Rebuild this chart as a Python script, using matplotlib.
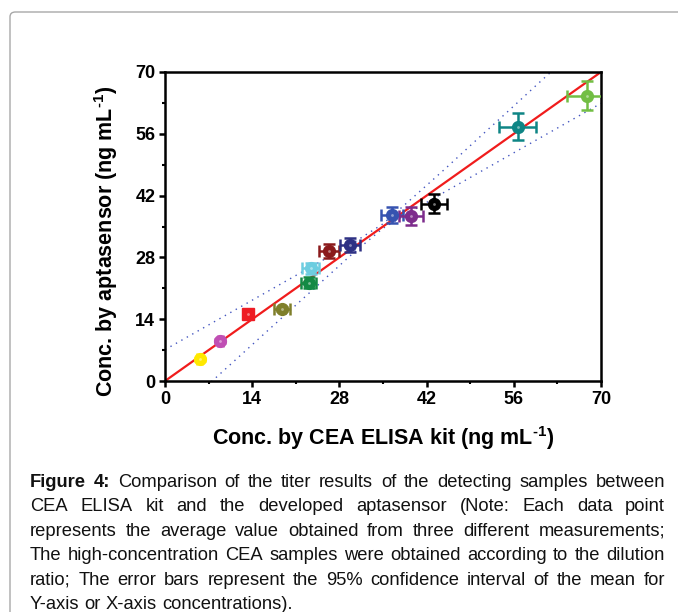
import matplotlib
matplotlib.use('Agg')
import matplotlib.pyplot as plt
import numpy as np
from matplotlib.patches import FancyBboxPatch
from matplotlib.ticker import MultipleLocator

plt.rcParams['font.family'] = ['Liberation Sans', 'DejaVu Sans']
plt.rcParams['mathtext.fontset'] = 'custom'
plt.rcParams['mathtext.rm'] = 'Liberation Sans:bold'
plt.rcParams['mathtext.default'] = 'rm'

# samples: ELISA kit (x) vs aptasensor (y), with 95% CI
elisa = [5.6, 8.9, 13.4, 18.8, 23.1, 23.4, 26.3, 29.7, 36.4, 39.5, 43.2, 56.6, 67.8]
apta = [4.9, 9.1, 15.1, 16.3, 22.3, 25.5, 29.5, 30.8, 37.6, 37.4, 40.2, 57.6, 64.6]
elisa_err = [0.4, 0.4, 0.6, 1.3, 1.2, 1.35, 1.6, 1.6, 1.8, 2.0, 2.06, 2.94, 3.2]
apta_err = [0.4, 0.4, 0.6, 0.4, 1.25, 1.3, 1.6, 1.6, 1.9, 2.1, 2.1, 3.0, 3.3]
colors = ['#ffe800', '#c04fb4', '#ee1c24', '#7f7f2a', '#138a45', '#6dcde0',
          '#8b1a1c', '#2e3184', '#3653b0', '#7d2c8c', '#000000', '#0e8585', '#72be44']

# fitted line
fit_slope = 1.0
fit_intercept = 0.0

# dotted confidence band
band_x = [0, 5, 10, 15, 20, 25, 30, 35, 40, 45, 50, 55, 60, 65, 70]
band_upper = [7.1, 11.1, 15.1, 19.1, 23.1, 27.1, 31.1, 35.6, 41.8, 48.1, 54.6, 61.0, 67.5, 73.9, 80.3]
band_lower = [-9.7, -3.3, 3.1, 9.5, 15.9, 22.3, 28.7, 34.6, 38.8, 42.9, 46.9, 50.9, 54.9, 58.9, 62.9]

ticks = [0, 14, 28, 42, 56, 70]

caption = [
    "Figure 4: Comparison of the titer results of the detecting samples between",
    "CEA ELISA kit and the developed aptasensor (Note: Each data point",
    "represents the average value obtained from three different measurements;",
    "The high-concentration CEA samples were obtained according to the dilution",
    "ratio; The error bars represent the 95% confidence interval of the mean for",
    "Y-axis or X-axis concentrations).",
]

W, H = 678, 612
fig = plt.figure(figsize=(W / 100, H / 100), dpi=100)

# page frame
frame = FancyBboxPatch((10 / W, -0.1), 1.2, 1 - 12 / H + 0.1,
                       boxstyle='round,pad=0,rounding_size=0.008',
                       transform=fig.transFigure, fc='none', ec='#a8a8a8', lw=1.0)
fig.patches.append(frame)

ax = fig.add_axes([165 / W, 1 - 381 / H, 436 / W, 309 / H])

ax.plot(band_x, band_upper, color='#4456c0', lw=1.0, ls=(0, (1, 3.5)), zorder=1)
ax.plot(band_x, band_lower, color='#4456c0', lw=1.0, ls=(0, (1, 3.5)), zorder=1)

xl = np.array([0, 70])
ax.plot(xl, fit_slope * xl + fit_intercept, color='#f01c1c', lw=1.6, zorder=2)

for i in range(len(elisa)):
    mk = 's' if i == 2 else 'o'
    ax.errorbar(elisa[i], apta[i], xerr=elisa_err[i], yerr=apta_err[i], fmt=mk,
                color=colors[i], ms=8.5, capsize=4, capthick=1.8, elinewidth=1.8, zorder=3)
    ax.plot(elisa[i], apta[i], 'o', color='white', ms=2, mew=0, alpha=0.45, zorder=4)

ax.set_xlim(0, 70)
ax.set_ylim(0, 70)
ax.set_xticks(ticks)
ax.set_yticks(ticks)
ax.xaxis.set_minor_locator(MultipleLocator(7))
ax.yaxis.set_minor_locator(MultipleLocator(7))
ax.tick_params(which='major', direction='out', length=4.5, width=1.8, labelsize=13, pad=2.5)
ax.tick_params(which='minor', direction='out', length=2.5, width=1.5)
for lab in ax.get_xticklabels() + ax.get_yticklabels():
    lab.set_fontweight('bold')
for s in ax.spines.values():
    s.set_linewidth(1.8)

fig.text(383 / W, 1 - 438 / H, r'Conc. by CEA ELISA kit (ng mL$^{\text{-1}}$)',
         ha='center', va='center', fontsize=15.5, fontweight='bold')
fig.text(106 / W, 1 - 241 / H, r'Conc. by aptasensor (ng mL$^{\text{-1}}$)',
         ha='center', va='center', rotation=90, fontsize=15.5, fontweight='bold')

# justified caption
r = fig.canvas.get_renderer()
x0, x1 = 30, 665
fs = 13.2
sp = fs * 100 / 72 * 0.278
for i, line in enumerate(caption):
    base = 1 - (487 + i * 24.4) / H
    words = line.split(' ')
    txts = []
    for j, w in enumerate(words):
        wt = 'bold' if (i == 0 and j < 2) else 'normal'
        txts.append(fig.text(0, base, w, fontsize=fs, fontweight=wt, va='baseline', color='#111111'))
    widths = [t.get_window_extent(r).width for t in txts]
    if i < len(caption) - 1:
        gap = (x1 - x0 - sum(widths)) / (len(words) - 1)
    else:
        gap = sp
    x = x0
    for t, w in zip(txts, widths):
        t.set_x(x / W)
        x += w + gap

fig.savefig('out.png', dpi=100)
